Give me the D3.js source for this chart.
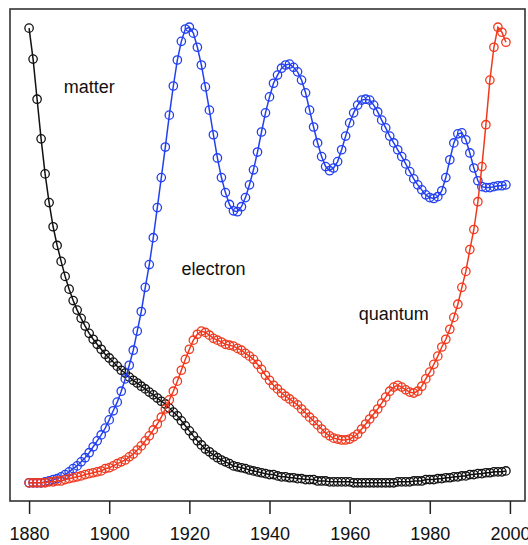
<!DOCTYPE html>
<html>
<head>
<meta charset="utf-8">
<script src="https://cdn.jsdelivr.net/npm/d3@7"></script>
<style>
  html, body { margin: 0; padding: 0; background: #fff; }
  svg { display: block; }
</style>
</head>
<body>
<svg id="chart" width="528" height="545"></svg>
<script>
// ---- data (relative frequency, each series scaled to its own maximum = 100) ----
const startYear = 1880;
const xTicks = [1880, 1900, 1920, 1940, 1960, 1980, 2000];

const matter = [
  99.8, 93.0, 84.2, 75.5, 67.8, 61.5, 56.2, 52.1, 48.6, 45.3,
  42.5, 40.0, 37.9, 36.1, 34.4, 32.8, 31.5, 30.4, 29.3, 28.2,
  27.4, 26.5, 25.6, 24.7, 24.1, 23.2, 22.5, 21.9, 21.2, 20.6,
  19.9, 19.3, 18.6, 17.9, 17.3, 16.4, 15.5, 14.7, 13.6, 12.5,
  11.4, 10.3, 9.2, 8.3, 7.4, 6.8, 6.1, 5.5, 5.0, 4.6,
  4.2, 3.7, 3.5, 3.3, 3.1, 2.8, 2.6, 2.4, 2.2, 2.0,
  1.8, 1.8, 1.5, 1.3, 1.3, 1.1, 1.1, 0.9, 0.9, 0.7,
  0.7, 0.7, 0.4, 0.4, 0.4, 0.2, 0.2, 0.2, 0.2, 0.2,
  0.2, 0.0, 0.0, 0.0, 0.0, 0.0, 0.0, 0.0, 0.0, 0.0,
  0.0, 0.0, 0.2, 0.2, 0.2, 0.2, 0.4, 0.4, 0.4, 0.7,
  0.7, 0.7, 0.9, 0.9, 1.1, 1.1, 1.3, 1.3, 1.5, 1.5,
  1.8, 1.8, 2.0, 2.0, 2.2, 2.2, 2.4, 2.4, 2.4, 2.6
];

const electron = [
  0.0, 0.0, 0.0, 0.0, 0.2, 0.4, 0.7, 0.9, 1.3, 1.8,
  2.4, 3.1, 3.7, 4.6, 5.5, 6.6, 7.9, 9.2, 10.5, 12.0,
  13.8, 15.8, 17.7, 20.1, 22.8, 25.8, 29.1, 33.3, 37.6, 42.9,
  47.9, 53.8, 60.4, 67.0, 73.7, 80.7, 87.1, 92.8, 96.9, 99.6,
  100.0, 98.7, 95.6, 91.7, 86.9, 81.8, 76.4, 71.3, 67.0, 63.7,
  61.1, 59.7, 59.5, 60.6, 62.6, 65.4, 68.7, 72.6, 77.0, 81.2,
  84.7, 87.7, 89.5, 91.0, 91.7, 91.9, 91.2, 90.2, 88.4, 85.6,
  81.8, 78.1, 74.6, 71.6, 69.4, 68.5, 69.1, 70.5, 73.1, 76.1,
  79.0, 81.2, 82.9, 84.0, 84.2, 84.0, 82.9, 81.4, 79.6, 77.9,
  76.1, 74.6, 73.1, 71.6, 70.0, 68.3, 66.7, 65.4, 64.3, 63.2,
  62.6, 62.4, 62.8, 64.1, 67.0, 70.9, 74.6, 76.6, 76.8, 75.3,
  72.4, 69.1, 66.3, 65.0, 64.8, 64.8, 65.0, 65.2, 65.2, 65.4
];

const quantum = [
  0.0, 0.0, 0.0, 0.0, 0.0, 0.2, 0.2, 0.4, 0.4, 0.7,
  0.9, 1.1, 1.3, 1.5, 1.8, 2.0, 2.2, 2.4, 2.6, 3.1,
  3.3, 3.7, 4.2, 4.6, 5.0, 5.7, 6.3, 7.2, 8.1, 9.2,
  10.3, 11.6, 12.9, 14.4, 16.2, 18.2, 20.1, 22.3, 24.7, 27.1,
  29.3, 31.3, 32.6, 33.3, 33.0, 32.4, 31.7, 31.3, 30.9, 30.4,
  30.2, 30.0, 29.5, 29.1, 28.4, 27.8, 27.1, 26.0, 24.9, 23.6,
  22.5, 21.4, 20.6, 19.7, 19.0, 18.4, 17.7, 17.1, 16.2, 15.3,
  14.4, 13.6, 12.7, 11.8, 10.9, 10.3, 9.8, 9.6, 9.4, 9.4,
  9.6, 10.1, 10.7, 11.8, 12.9, 14.0, 15.1, 16.2, 17.5, 18.8,
  20.1, 21.0, 21.4, 21.0, 20.4, 19.9, 19.7, 20.1, 21.2, 22.8,
  24.3, 26.0, 27.8, 29.8, 31.5, 33.7, 36.3, 39.2, 42.9, 46.4,
  51.2, 55.6, 61.7, 69.4, 78.6, 88.4, 95.6, 100.0, 98.9, 96.7
];

const seriesNames = ["matter", "electron", "quantum"];
const seriesColors = ["#111111", "#2340f0", "#f2381c"];
const labelYears = [1895, 1926, 1971];
const labelValues = [86.9, 47, 37];

// ---- drawing ----
const svg = d3.select("#chart");
const years = d3.range(startYear, startYear + matter.length);
const lastYear = years[years.length - 1];

// R-style 4% padding around the data range
const xPad = (lastYear - startYear) * 0.04;
const x = d3.scaleLinear()
  .domain([startYear - xPad, lastYear + xPad])
  .range([10, 525]);
const y = d3.scaleLinear()
  .domain([-4, 104])
  .range([501, 9]);

// frame
svg.append("rect")
  .attr("x", x.range()[0]).attr("y", y.range()[1])
  .attr("width", x.range()[1] - x.range()[0])
  .attr("height", y.range()[0] - y.range()[1])
  .attr("fill", "none").attr("stroke", "#333").attr("stroke-width", 1.6);

// bottom axis
const xAxis = d3.axisBottom(x)
  .tickValues(xTicks)
  .tickFormat(d3.format("d"))
  .tickSize(13)
  .tickPadding(13);
const gx = svg.append("g")
  .attr("transform", `translate(0,${y.range()[0]})`)
  .call(xAxis);
gx.select(".domain").remove();
gx.selectAll(".tick line").attr("stroke", "#222").attr("stroke-width", 1.5);
gx.selectAll(".tick text")
  .attr("fill", "#111")
  .style("font-family", "'Liberation Sans', Arial, Helvetica, sans-serif")
  .style("font-size", "18px");

const allSeries = [matter, electron, quantum];
const line = d3.line()
  .x((d, i) => x(years[i]))
  .y(d => y(d));

allSeries.forEach((vals, si) => {
  const g = svg.append("g").attr("class", "series-" + seriesNames[si]);
  g.append("path")
    .datum(vals)
    .attr("d", line)
    .attr("fill", "none")
    .attr("stroke", seriesColors[si])
    .attr("stroke-width", 1.5);
  g.selectAll("circle")
    .data(vals)
    .join("circle")
    .attr("cx", (d, i) => x(years[i]))
    .attr("cy", d => y(d))
    .attr("r", 4.2)
    .attr("fill", "none")
    .attr("stroke", seriesColors[si])
    .attr("stroke-width", 1.3);
});

// series labels
seriesNames.forEach((name, i) => {
  svg.append("text")
    .attr("x", x(labelYears[i]))
    .attr("y", y(labelValues[i]))
    .attr("text-anchor", "middle")
    .attr("dominant-baseline", "central")
    .attr("fill", "#111")
    .style("font-family", "'Liberation Sans', Arial, Helvetica, sans-serif")
    .style("font-size", "18px")
    .text(name);
});
</script>
</body>
</html>
